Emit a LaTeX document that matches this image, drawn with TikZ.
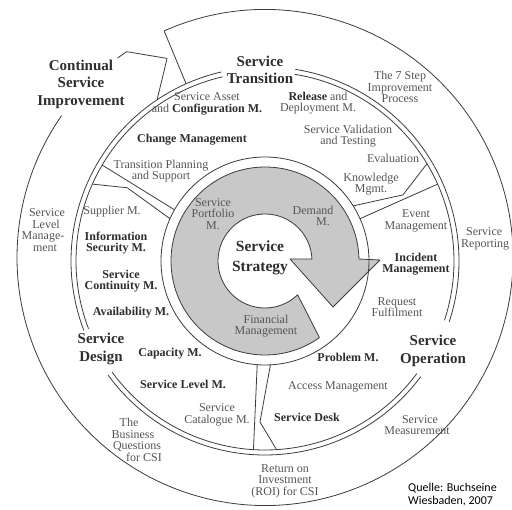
\documentclass[tikz,border=0pt]{standalone}
\usepackage{fontspec}
\setmainfont{Liberation Serif}
\newfontfamily\srcfont{Carlito}
\definecolor{lineC}{HTML}{3C3C3C}
\definecolor{txtC}{HTML}{555555}
\definecolor{boldC}{HTML}{2E2E2E}
\definecolor{grayF}{HTML}{C8C8C8}
\newcommand{\strongtxt}[1]{\textcolor{boldC}{\textbf{#1}}}
\begin{document}
\begin{tikzpicture}[x=1pt,y=1pt,
  ln/.style={draw=lineC, line width=0.8pt, line join=round},
  lbl/.style={text=txtC, font=\fontsize{12}{11.5}\selectfont, align=center, inner sep=0pt},
  blbl/.style={lbl, text=boldC, font=\fontsize{12}{11.5}\selectfont\bfseries},
  head/.style={text=boldC, font=\fontsize{15}{17.5}\selectfont\bfseries, align=center, inner sep=0pt},
  src/.style={text=black, font=\fontsize{12}{13}\selectfont\srcfont, align=left, inner sep=0pt, anchor=north west},
]
\useasboundingbox (0,0) rectangle (512,510);
\fill[white] (0,0) rectangle (512,510);

% ---- wheel geometry, centred on the hub ----
\begin{scope}[shift={(265,249)}]
  % Service Strategy: grey ring ending in an arrow head
  \filldraw[fill=grayF, ln]
    (25,2) -- (68,-46) -- (115,1) -- (1.2:94)
    arc[start angle=1.2, end angle=305.4, radius=94]
    -- (314:47)
    arc[start angle=314, end angle=2.4, radius=47] -- cycle;
  % hub circle
  \draw[ln] (0,0) circle[radius=104];

  % double ring around the life-cycle sectors (gaps for the titles)
  \foreach \r in {194,189} {
    \draw[ln] (103:\r) arc[start angle=103, end angle=201, radius=\r];
    \draw[ln] (216:\r) arc[start angle=216, end angle=323.4, radius=\r];
    \draw[ln] (341.7:\r) arc[start angle=341.7, end angle=441, radius=\r];
  }

  % Continual Service Improvement: outer band drawn as a circular arrow
  \begin{scope}[shift={(0,3.5)}]
    \coordinate (csiTail) at (114:248);
    \coordinate (csiBarb) at (123.9:248);
    \draw[ln] (csiTail) arc[start angle=114, end angle=-214.9, radius=248];
    \draw[ln] (126.5:248) arc[start angle=126.5, end angle=123.9, radius=248];
  \end{scope}
  \coordinate (csiTip) at (115.8:225);
  \coordinate (csiFoot) at (123.8:194);
  \draw[ln] (csiTail) -- (114:194);
  \draw[ln] (csiBarb) -- (csiTip) -- (csiFoot);

  % sector borders
  \draw[ln] (149.5:189) -- (150.5:104);
  \draw[ln] (156:189) -- (152:156) -- (156:104);
  \draw[ln] (32:104) -- (25.6:153) -- (31:189);
  \draw[ln] (24:104) -- (24:189);
  \draw[ln] (-94.3:104) -- (-93.5:189);
  \draw[ln] (-87:104) -- (-91.8:161) -- (-86.5:189);
\end{scope}

% ---- labels (x right, y down) ----
\begin{scope}[shift={(0,510)}, yscale=-1]
  \node[head] (csi) at (81,84) {Continual\\Service\\Improvement};
  \node[head] (st) at (260,70) {Service\\Transition};
  \node[head] (sd) at (101,349) {Service\\Design};
  \node[head] (so) at (433,351) {Service\\Operation};
  \node[head, font=\fontsize{15.5}{20}\selectfont\bfseries] (ss) at (260,258) {Service\\Strategy};

  \node[lbl] (asset) at (207,104) {Service Asset\\and \strongtxt{Configuration M.}};
  \node[lbl] (release) at (318,103) {\strongtxt{Release} and\\Deployment M.};
  \node[lbl] (seven) at (400,87) {The 7 Step\\Improvement\\Process};
  \node[blbl] (change) at (192,140) {Change Management};
  \node[lbl] (valid) at (348,136) {Service Validation\\and Testing};
  \node[lbl] (eval) at (393,158) {Evaluation};
  \node[lbl] (know) at (371,184) {Knowledge\\Mgmt.};
  \node[lbl] (tps) at (161,171) {Transition Planning\\and Support};

  \node[lbl] (portfolio) at (213,214) {Service\\Portfolio\\M.};
  \node[lbl] (demand) at (313,216) {Demand\\\hspace*{20pt}M.};
  \node[lbl] (financial) at (266,326) {Financial\\Management};

  \node[lbl] (supplier) at (112,212) {Supplier M.};
  \node[blbl] (infosec) at (116,243) {Information\\Security M.};
  \node[blbl] (contin) at (121,281) {Service\\Continuity M.};
  \node[blbl] (avail) at (131,313) {Availability M.};
  \node[blbl] (capacity) at (170,354) {Capacity M.};
  \node[blbl] (slm) at (183,384) {Service Level M.};
  \node[lbl] (catalogue) at (217,415) {Service\\Catalogue M.};

  \node[lbl] (levelcsi) at (45,230) {\hspace*{4pt}Service\\\hspace*{2pt}Level\\\hspace*{-4pt}Manage-\\ment};
  \node[lbl] (business) at (137,440) {\hspace*{-16pt}The\\\hspace*{-8pt}Business\\Questions\\\hspace*{14pt}for CSI};
  \node[lbl] (roi) at (285,481) {Return on\\Investment\\(ROI) for CSI};
  \node[lbl, anchor=west, align=left] (reporting) at (461,239) {\hspace*{5pt}Service\\Reporting};
  \node[lbl] (measure) at (417,425) {\hspace*{6pt}Service\\Measurement};

  \node[lbl] (event) at (416,221) {Event\\Management};
  \node[blbl] (incident) at (416,264) {Incident\\Management};
  \node[lbl] (request) at (397,307) {Request\\Fulfilment};
  \node[blbl] (problem) at (348,357) {Problem M.};
  \node[lbl] (access) at (338,387) {Access Management};
  \node[blbl] (desk) at (307,417) {Service Desk};

  \node[src] (quelle) at (408,483) {Quelle: Buchseine\\Wiesbaden, 2007};
\end{scope}
\end{tikzpicture}
\end{document}
